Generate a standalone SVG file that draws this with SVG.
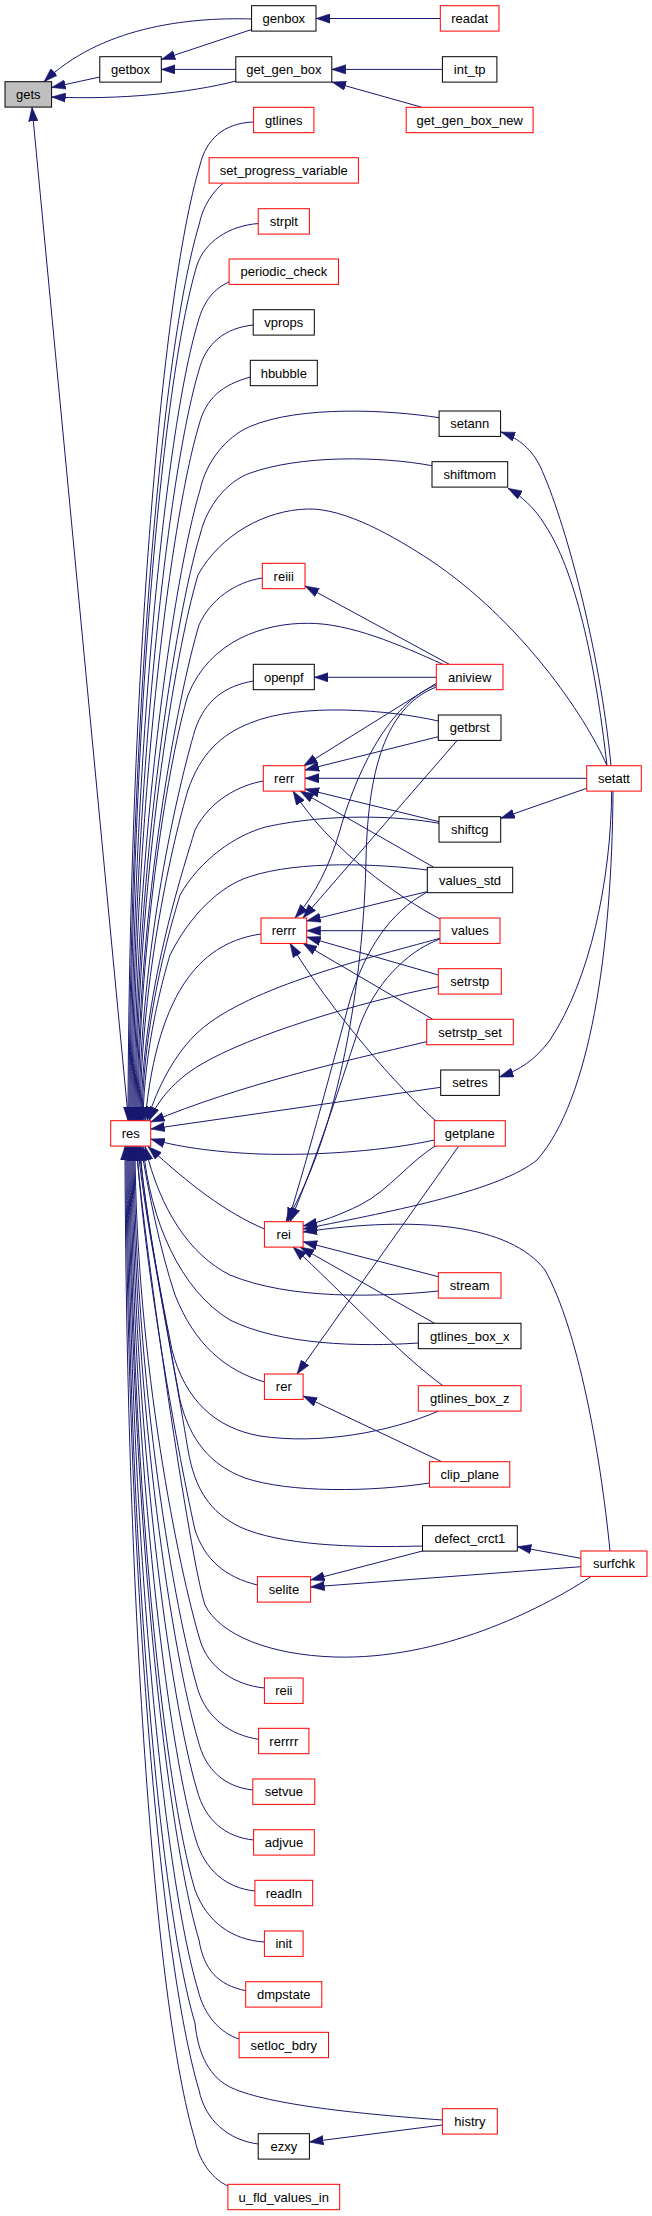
<svg xmlns="http://www.w3.org/2000/svg" width="652" height="2216" viewBox="0 0 652 2216">
<style>
rect{fill:#fff;stroke:#000;stroke-width:1}
rect.r{stroke:#f00}
rect.g{fill:#bfbfbf}
text{font-family:"Liberation Sans",Arial,Helvetica,sans-serif;font-size:13px;fill:#000;text-anchor:middle}
#edges path{fill:none;stroke:#191970;stroke-width:1;marker-end:url(#ah)}
</style>
<defs>
<marker id="ah" viewBox="0 0 14 10" refX="14" refY="5" markerWidth="14" markerHeight="10" orient="auto" markerUnits="userSpaceOnUse">
<path d="M0,0.3 L14,5 L0,9.7 z" fill="#191970" stroke="#191970" stroke-width="0.5"/>
</marker>
</defs>
<rect x="0" y="0" width="652" height="2216" style="fill:#fff;stroke:none"/>
<g id="edges">
<path d="M251.6,19 C185,17 100,28 44,81.7"/>
<path d="M251.6,29.5 L161.3,59.5"/>
<path d="M440.3,18.5 L316,18.5"/>
<path d="M99.8,77 L51.6,87.5"/>
<path d="M235.8,69.4 L161.3,69.4"/>
<path d="M235.8,81 C190,93 120,100 51.6,97"/>
<path d="M442.4,69.4 L331.8,69.4"/>
<path d="M422,107.3 L332,82"/>
<path d="M128.5,1120.7 L32,107.3"/>
<path d="M253.6,122 C223,123 206,140 200,165 C160,298.8 129,700.2 128,1120.7"/>
<path d="M223,183.3 C213,192 203,205 199,225 C161.4,350.4 130,726.6 129,1120.7"/>
<path d="M258.2,223.5 C228,226 205,242 197,265 C161,384.8 131,744.2 130,1120.7"/>
<path d="M229.1,282 C215,288 204,300 198,322 C164.5,433.8 132,769.3 131,1120.7"/>
<path d="M253.2,325 C225,328 206,343 199,370 C167.5,475.1 133,790.4 132,1120.7"/>
<path d="M250.3,377 C222,385 206,398 199,425 C169.8,522.4 134,814.6 133,1120.7"/>
<path d="M439.1,417.7 C390,410 300,405 249.5,426.7 C226,437 206,462 200,490 C173.5,578.3 135,843.2 134,1120.7"/>
<path d="M432,465.7 C380,456 300,455 249.5,473.3 C228,481 207,505 200,535 C175.4,617 136,863 135,1120.7"/>
<path d="M607,765.7 C585,715 520,620 430,560 C395,537 345,508 307.7,509 C265,510 220,535 198,575 C175.1,651.4 137,880.6 136,1120.7"/>
<path d="M262.3,578 C235,582 210,600 199,625 C178.2,694.4 138,902.6 137,1120.7"/>
<path d="M442.8,664.3 C400,645 350,623 307.7,623.3 C265,623 210,640 188,695 C170.1,754.6 139,933.4 138,1120.7"/>
<path d="M253.3,681 C225,686 205,700 195,730 C178.6,784.7 140,948.8 139,1120.7"/>
<path d="M438.3,721 C390,710 300,702 249.5,723.3 C220,735 200,755 188,790 C174.1,836.3 141,975.2 140,1120.7"/>
<path d="M263.3,781 C240,785 210,800 195,830 C182.8,870.7 142,992.8 141,1120.7"/>
<path d="M439,823.3 C400,816 330,813 266.7,826.7 C235,835 200,860 180,895 C170.5,926.6 143,1020 142,1120.7"/>
<path d="M427.3,870 C380,864 300,860 249.5,876.7 C220,886 190,915 170,955 C163,978 144,1047.8 143,1120.7"/>
<path d="M261,934 C205,942 158,985 145,1120.7"/>
<path d="M440,938.3 C360,960 240,990 195,1035 C170,1060 155,1095 147,1120.7"/>
<path d="M438.3,986.7 C360,1002 250,1035 200,1065 C175,1080 158,1100 149,1120.7"/>
<path d="M426.7,1041.7 C340,1062 240,1085 150.7,1122"/>
<path d="M440.7,1087.3 L150.7,1129"/>
<path d="M434.3,1140 C390,1150 320,1156 260,1154 C210,1152 175,1146 150.7,1139"/>
<path d="M264.4,1229 C225,1212 190,1185 148,1146.5"/>
<path d="M438.3,1291 C380,1297 290,1300 230,1275 C190,1255 160,1210 145,1146.5"/>
<path d="M418.3,1343 C360,1347 280,1345 230,1320 C180,1290 150,1220 143,1146.5"/>
<path d="M264.4,1382 C225,1370 195,1345 175,1295 C160,1250 148,1190 141,1146.5"/>
<path d="M438.7,1411 C390,1432 320,1445 260,1436 C215,1428 185,1400 172,1350 C158,1280 143,1200 140,1146.5"/>
<path d="M429.5,1483 C370,1492 290,1493 245,1478 C210,1465 190,1440 180,1400 C165,1320 145,1210 139,1146.5"/>
<path d="M422.5,1546 C350,1548 280,1545 240,1527 C210,1512 195,1490 188,1450 C170,1340 143,1210 138,1146.5"/>
<path d="M257.4,1585 C225,1577 205,1560 195,1530 C175,1440 142,1250 137,1146.5"/>
<path d="M590.4,1577 C540,1610 440,1660 335,1657 C270,1655 220,1635 205,1605 C190,1560 145,1250 136,1146.5"/>
<path d="M264.4,1688 C235,1685 208,1668 200,1640 C179.3,1571 136,1363 135,1146.5"/>
<path d="M258.6,1739.3 C230,1735 207,1718 198,1690 C175.2,1613.8 135,1385.4 134,1146.5"/>
<path d="M252.8,1790 C225,1787 205,1770 198,1740 C173,1656.8 134,1407.4 133,1146.5"/>
<path d="M253.6,1840 C225,1837 205,1820 197,1790 C170,1699.8 133,1429.4 132,1146.5"/>
<path d="M254.9,1891 C226,1888 205,1870 196,1840 C166.9,1742.8 132,1451.4 131,1146.5"/>
<path d="M264.4,1942 C232,1940 207,1922 195,1890 C163.8,1785.8 131,1473.4 130,1146.5"/>
<path d="M245.7,1990.7 C218,1985 204,1970 199,1940 C165.7,1828.8 130,1495.4 129,1146.5"/>
<path d="M239.1,2039 C220,2033 204,2015 198,1990 C162.6,1871.8 129,1517.4 128,1146.5"/>
<path d="M442.4,2120 C360,2114 270,2105 232,2088 C210,2078 198,2055 195,2023 C158.2,1900.2 128,1531.9 127,1146.5"/>
<path d="M258.2,2144 C228,2140 205,2120 199,2090 C159.4,1957.8 127,1561.4 126,1146.5"/>
<path d="M227.9,2186 C215,2180 200,2165 195,2140 C153.3,2000.8 126,1583.4 125,1146.5"/>
<path d="M449.3,664.3 L305,586"/>
<path d="M436.3,677.3 L314.3,677.3"/>
<path d="M436.3,683.3 L303.5,766"/>
<path d="M436.3,685 C395,700 360,760 340,830 C330,865 315,895 295,918"/>
<path d="M436.3,687 C390,705 368,760 366,860 C364,960 345,1120 286,1221.7"/>
<path d="M427.3,892 C390,912 365,950 350,1000 C335,1055 310,1150 288,1221.7"/>
<path d="M440,939 C405,952 375,985 360,1025 C345,1070 320,1150 290,1221.7"/>
<path d="M438.3,736.7 L305,770"/>
<path d="M456.7,741 L303,918"/>
<path d="M586.7,778.3 L305,778.3"/>
<path d="M586.7,788.3 L500.7,818.3"/>
<path d="M439,821.7 L305,789"/>
<path d="M433.3,867 L300,791"/>
<path d="M440,919 C400,898 330,850 293,791"/>
<path d="M426.7,891.7 L306.7,921"/>
<path d="M440,930.7 L306.7,930.7"/>
<path d="M438.3,975 L306.7,937"/>
<path d="M432.7,1019.3 L303,943.3"/>
<path d="M436,1121 C400,1090 330,1010 290,943.3"/>
<path d="M440,1143 C410,1160 390,1190 360,1205 C340,1215 320,1222 303.1,1226"/>
<path d="M458.3,1146.7 L297,1374"/>
<path d="M611.7,791 C611,880 590,980 550,1040 C535,1060 520,1070 499.3,1077"/>
<path d="M613,791 C612,950 590,1100 537,1160 C500,1190 400,1210 303.1,1229"/>
<path d="M611,765.7 C600,650 565,520 540,466 C530,446 515,437 501,432"/>
<path d="M607,765.7 C595,660 575,570 545,525 C535,508 520,495 508,488.3"/>
<path d="M438.3,1276.7 L303.1,1241.7"/>
<path d="M434.5,1323.3 L300,1247"/>
<path d="M443.3,1386 C400,1355 340,1290 293,1247"/>
<path d="M441.7,1461.7 L303.1,1396"/>
<path d="M422.5,1551 L310.6,1580"/>
<path d="M580.9,1566.7 L310.6,1587"/>
<path d="M580.9,1558.3 L517.3,1546.7"/>
<path d="M610,1551 C600,1450 578,1330 545,1270 C510,1225 420,1215 303.1,1232"/>
<path d="M442.4,2125 L309.4,2142"/>
</g>
<g id="gets"><rect class="g" x="5" y="81.7" width="46.6" height="25.4"/><text x="28.3" y="99">gets</text></g>
<g id="getbox"><rect x="99.8" y="56.7" width="61.5" height="25.4"/><text x="130.6" y="74">getbox</text></g>
<g id="genbox"><rect x="251.6" y="5.7" width="64.4" height="25.4"/><text x="283.8" y="23">genbox</text></g>
<g id="readat"><rect class="r" x="440.3" y="5.7" width="58.7" height="25.4"/><text x="469.7" y="23">readat</text></g>
<g id="get_gen_box"><rect x="235.8" y="56.7" width="96" height="25.4"/><text x="283.8" y="74">get_gen_box</text></g>
<g id="int_tp"><rect x="442.4" y="56.7" width="54.5" height="25.4"/><text x="469.7" y="74">int_tp</text></g>
<g id="get_gen_box_new"><rect class="r" x="406.2" y="107.3" width="126.9" height="25.4"/><text x="469.7" y="124.6">get_gen_box_new</text></g>
<g id="gtlines"><rect class="r" x="253.6" y="107.3" width="60.3" height="25.4"/><text x="283.8" y="124.6">gtlines</text></g>
<g id="set_progress_variable"><rect class="r" x="209.1" y="157.7" width="149.3" height="25.4"/><text x="283.8" y="175">set_progress_variable</text></g>
<g id="strplt"><rect class="r" x="258.2" y="208.7" width="51.2" height="25.4"/><text x="283.8" y="226">strplt</text></g>
<g id="periodic_check"><rect class="r" x="229.1" y="259" width="109.4" height="25.4"/><text x="283.8" y="276.3">periodic_check</text></g>
<g id="vprops"><rect x="253.2" y="309.7" width="61.1" height="25.4"/><text x="283.8" y="327">vprops</text></g>
<g id="hbubble"><rect x="250.3" y="360.3" width="67" height="25.4"/><text x="283.8" y="377.6">hbubble</text></g>
<g id="setann"><rect x="439.1" y="411" width="61.5" height="25.4"/><text x="469.8" y="428.3">setann</text></g>
<g id="shiftmom"><rect x="432" y="461.7" width="75.7" height="25.4"/><text x="469.8" y="479">shiftmom</text></g>
<g id="reiii"><rect class="r" x="262.3" y="563.3" width="42.7" height="25.4"/><text x="283.7" y="580.6">reiii</text></g>
<g id="openpf"><rect x="253.3" y="664.3" width="61" height="25.4"/><text x="283.8" y="681.6">openpf</text></g>
<g id="aniview"><rect class="r" x="436.3" y="664.3" width="66.7" height="25.4"/><text x="469.7" y="681.6">aniview</text></g>
<g id="getbrst"><rect x="438.3" y="715" width="62.7" height="25.4"/><text x="469.7" y="732.3">getbrst</text></g>
<g id="rerr"><rect class="r" x="263.3" y="765.7" width="41.7" height="25.4"/><text x="284.2" y="783">rerr</text></g>
<g id="setatt"><rect class="r" x="586.7" y="765.7" width="54.6" height="25.4"/><text x="614" y="783">setatt</text></g>
<g id="shiftcg"><rect x="439" y="816.7" width="61.7" height="25.4"/><text x="469.8" y="834">shiftcg</text></g>
<g id="values_std"><rect x="427.3" y="867.3" width="85.4" height="25.4"/><text x="470" y="884.6">values_std</text></g>
<g id="rerrr"><rect class="r" x="261" y="918" width="45.7" height="25.4"/><text x="283.9" y="935.3">rerrr</text></g>
<g id="values"><rect class="r" x="440" y="918" width="60" height="25.4"/><text x="470" y="935.3">values</text></g>
<g id="setrstp"><rect class="r" x="438.3" y="968.7" width="63" height="25.4"/><text x="469.8" y="986">setrstp</text></g>
<g id="setrstp_set"><rect class="r" x="426.7" y="1019.3" width="86.6" height="25.4"/><text x="470" y="1036.6">setrstp_set</text></g>
<g id="setres"><rect x="440.7" y="1070" width="58.6" height="25.4"/><text x="470" y="1087.3">setres</text></g>
<g id="res"><rect class="r" x="110.7" y="1120.7" width="40" height="25.4"/><text x="130.7" y="1138">res</text></g>
<g id="getplane"><rect class="r" x="434.3" y="1120.7" width="71" height="25.4"/><text x="469.8" y="1138">getplane</text></g>
<g id="rei"><rect class="r" x="264.4" y="1221.7" width="38.7" height="25.4"/><text x="283.8" y="1239">rei</text></g>
<g id="stream"><rect class="r" x="438.3" y="1272.7" width="62.7" height="25.4"/><text x="469.7" y="1290">stream</text></g>
<g id="gtlines_box_x"><rect x="418.3" y="1323.3" width="102.7" height="25.4"/><text x="469.7" y="1340.6">gtlines_box_x</text></g>
<g id="rer"><rect class="r" x="264.4" y="1374" width="38.7" height="25.4"/><text x="283.8" y="1391.3">rer</text></g>
<g id="gtlines_box_z"><rect class="r" x="418.3" y="1385.7" width="102.7" height="25.4"/><text x="469.7" y="1403">gtlines_box_z</text></g>
<g id="clip_plane"><rect class="r" x="429.5" y="1461.7" width="80.3" height="25.4"/><text x="469.7" y="1479">clip_plane</text></g>
<g id="defect_crct1"><rect x="422.5" y="1525.7" width="94.8" height="25.4"/><text x="469.9" y="1543">defect_crct1</text></g>
<g id="surfchk"><rect class="r" x="580.9" y="1551" width="66.1" height="25.4"/><text x="614" y="1568.3">surfchk</text></g>
<g id="selite"><rect class="r" x="257.4" y="1576.7" width="53.2" height="25.4"/><text x="284" y="1594">selite</text></g>
<g id="reii"><rect class="r" x="264.4" y="1678" width="38.7" height="25.4"/><text x="283.8" y="1695.3">reii</text></g>
<g id="rerrrr"><rect class="r" x="258.6" y="1728.3" width="50.3" height="25.4"/><text x="283.8" y="1745.6">rerrrr</text></g>
<g id="setvue"><rect class="r" x="252.8" y="1779" width="62" height="25.4"/><text x="283.8" y="1796.3">setvue</text></g>
<g id="adjvue"><rect class="r" x="253.6" y="1829.7" width="60.7" height="25.4"/><text x="284" y="1847">adjvue</text></g>
<g id="readln"><rect class="r" x="254.9" y="1880.3" width="57.8" height="25.4"/><text x="283.8" y="1897.6">readln</text></g>
<g id="init"><rect class="r" x="264.4" y="1931" width="38.7" height="25.4"/><text x="283.8" y="1948.3">init</text></g>
<g id="dmpstate"><rect class="r" x="245.7" y="1981.7" width="76.1" height="25.4"/><text x="283.8" y="1999">dmpstate</text></g>
<g id="setloc_bdry"><rect class="r" x="239.1" y="2032.3" width="89.4" height="25.4"/><text x="283.8" y="2049.6">setloc_bdry</text></g>
<g id="histry"><rect class="r" x="442.4" y="2108.7" width="54.9" height="25.4"/><text x="469.9" y="2126">histry</text></g>
<g id="ezxy"><rect x="258.2" y="2133.7" width="51.2" height="25.4"/><text x="283.8" y="2151">ezxy</text></g>
<g id="u_fld_values_in"><rect class="r" x="227.9" y="2184.3" width="111.8" height="25.4"/><text x="283.8" y="2201.6">u_fld_values_in</text></g>
</svg>
